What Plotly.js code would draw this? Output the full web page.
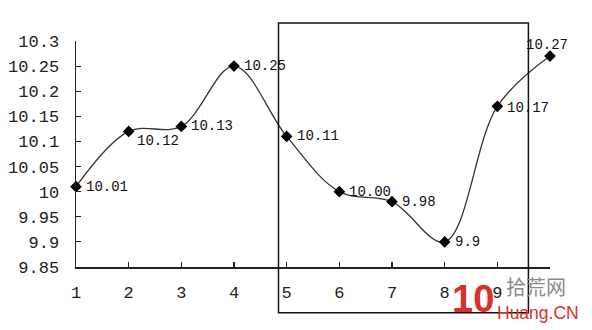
<!DOCTYPE html>
<html><head><meta charset="utf-8">
<script src="https://cdn.plot.ly/plotly-3.0.1.min.js"></script>
<style>html,body{margin:0;padding:0;background:#fff}#chart{width:592px;height:330px}</style>
</head><body><div id="chart"></div>
<script>
const xs = [1, 2, 3, 4, 5, 6, 7, 8, 9, 10];
const values = [10.01, 10.12, 10.13, 10.25, 10.11, 10.00, 9.98, 9.90, 10.17, 10.27];
const pointLabels = ["10.01", "10.12", "10.13", "10.25", "10.11", "10.00", "9.98", "9.9", "10.17", "10.27"];
const xTickVals = [1, 2, 3, 4, 5, 6, 7, 8, 9, 10];
const xTickText = ["1", "2", "3", "4", "5", "6", "7", "8", "9", ""];
const yTickVals = [9.85, 9.9, 9.95, 10, 10.05, 10.1, 10.15, 10.2, 10.25, 10.3];
const yTickText = ["9.85", "9.9", "9.95", "10", "10.05", "10.1", "10.15", "10.2", "10.25", "10.3"];
const boxX = [4.845, 9.59];
const boxY = [9.759, 10.336];

const xRange = [1, 10], yRange = [9.85, 10.3];
const px = v => (v - xRange[0]) / (xRange[1] - xRange[0]);
const py = v => (v - yRange[0]) / (yRange[1] - yRange[0]);

const mono = "Liberation Mono, DejaVu Sans Mono, monospace";

// label placement per point: [xanchor, xshift, yshift]
const place = [
  ["left", 8, 0], ["left", 6, -10], ["left", 8, 0], ["left", 8, 0], ["left", 8, 0],
  ["left", 8, 0], ["left", 8, 0], ["left", 8, 0], ["left", 8, -2], ["center", -3, 11]
];
const labelAnns = xs.map((x, i) => ({
  x: x, y: values[i], xref: "x", yref: "y", text: pointLabels[i], showarrow: false,
  xanchor: place[i][0], yanchor: "middle", xshift: place[i][1], yshift: place[i][2],
  font: {family: mono, size: 14, color: "#111"}
}));

const watermark = [
  {xref: "paper", yref: "paper", x: 0.79, y: -0.142, text: "<b>10</b>", showarrow: false,
   xanchor: "left", yanchor: "middle", font: {family: "Liberation Sans, Arial", size: 38, color: "#d9302c"}},
  {xref: "paper", yref: "paper", x: 0.903, y: -0.085, text: "拾荒网", showarrow: false,
   xanchor: "left", yanchor: "middle", font: {family: "Noto Sans CJK SC", size: 20, color: "#8a8a8a"}},
  {xref: "paper", yref: "paper", x: 0.884, y: -0.205, text: "Huang.CN", showarrow: false,
   xanchor: "left", yanchor: "middle", font: {family: "Liberation Sans, Arial", size: 17.5, color: "#d9302c"}}
];

const trace = {
  x: xs, y: values, type: "scatter", mode: "lines+markers",
  line: {shape: "spline", smoothing: 1, color: "#333", width: 1.3},
  marker: {symbol: "diamond", size: 9, color: "#000"},
  cliponaxis: false, hoverinfo: "skip"
};

const layout = {
  width: 592, height: 330,
  margin: {l: 76, r: 42, t: 41, b: 63, pad: 0},
  paper_bgcolor: "#fff", plot_bgcolor: "#fff",
  showlegend: false,
  xaxis: {
    range: xRange, tickvals: xTickVals, ticktext: xTickText,
    showgrid: false, zeroline: false, showline: true, linecolor: "#222", linewidth: 1.5,
    ticks: "inside", ticklen: 5, tickcolor: "#222", tickwidth: 1.2,
    ticklabelstandoff: 9,
    tickfont: {family: mono, size: 17, color: "#222"}
  },
  yaxis: {
    range: yRange, tickvals: yTickVals, ticktext: yTickText,
    showgrid: false, zeroline: false, showline: true, linecolor: "#222", linewidth: 1.5,
    ticks: "inside", ticklen: 5, tickcolor: "#222", tickwidth: 1.2,
    ticklabelstandoff: 12,
    tickfont: {family: mono, size: 17, color: "#222"}
  },
  shapes: [{
    type: "rect", xref: "paper", yref: "paper",
    x0: px(boxX[0]), x1: px(boxX[1]), y0: py(boxY[0]), y1: py(boxY[1]),
    line: {color: "#111", width: 1.5}, fillcolor: "rgba(0,0,0,0)"
  }],
  annotations: labelAnns.concat(watermark)
};

Plotly.newPlot("chart", [trace], layout, {displayModeBar: false, staticPlot: true});
</script></body></html>
